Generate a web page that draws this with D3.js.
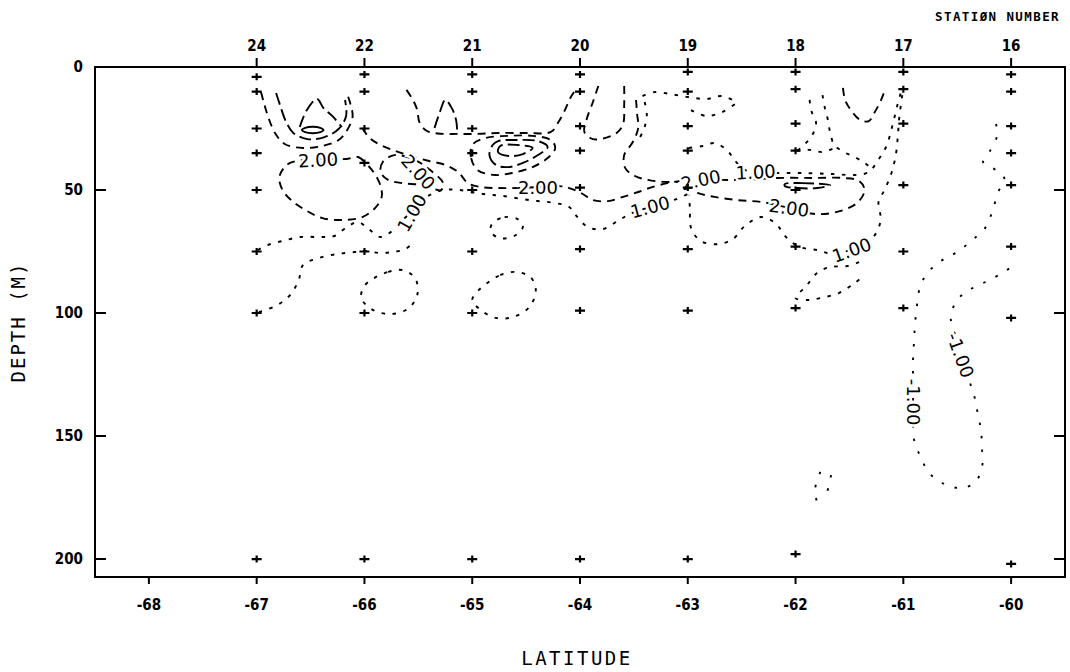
<!DOCTYPE html>
<html><head><meta charset="utf-8">
<script src="https://cdn.jsdelivr.net/npm/d3@7"></script>
<style>body{margin:0;background:#fff}svg{display:block}</style>
</head><body>
<svg id="c" width="1070" height="672"></svg>
<script>
// ---------- data ----------
const stationNumbers = ["24","22","21","20","19","18","17","16"];
const stationLats = [-67,-66,-65,-64,-63,-62,-61,-60];
const sampleDepths = [
  [4,10,25,35,50,75,100,200],
  [3,10,25,39,75,100,200],
  [3,10,25,35,50,75,100,200],
  [3,10,24,34,49,74,99,200],
  [2,10,24,34,49,74,99,200],
  [2,9,23,34,50,73,98,198],
  [2,9,23,48,75,98],
  [3,10,24,35,48,73,102,202]
];
const latTicks = [-68,-67,-66,-65,-64,-63,-62,-61,-60];
const depthTicks = [0,50,100,150,200];

// contour lines, [latitude, depth]
const a1 = [[-66.96,10.2],[-66.93,15.0],[-66.89,20.7],[-66.83,26.8],[-66.74,31.3],[-66.57,32.9],[-66.39,32.1],[-66.24,29.7],[-66.16,25.6],[-66.11,20.3],[-66.13,15.0],[-66.16,11.0]];
const a2 = [[-66.82,10.6],[-66.78,15.9],[-66.73,22.0],[-66.66,26.8],[-66.53,29.3],[-66.37,28.5],[-66.24,25.2],[-66.17,19.9],[-66.18,13.4]];
const a3 = [[-66.60,24.4],[-66.54,17.9],[-66.44,13.0],[-66.38,16.7],[-66.29,20.3],[-66.21,24.4]];
const a4 = [[-66.58,25.6],[-66.55,24.7],[-66.48,24.3],[-66.41,24.7],[-66.38,25.6],[-66.41,26.5],[-66.48,26.9],[-66.55,26.5]];
const b1 = [[-66.17,37.4],[-66.06,36.6],[-65.99,39.0],[-65.91,43.1],[-65.85,48.4],[-65.84,52.8],[-65.90,57.3],[-66.02,61.0],[-66.20,62.2],[-66.39,61.4],[-66.55,58.1],[-66.68,54.1],[-66.76,50.0],[-66.79,45.1],[-66.75,41.1],[-66.69,39.0],[-66.57,37.8],[-66.43,37.4],[-66.29,37.4]];
const c1 = [[-65.72,35.8],[-65.83,38.6],[-65.85,42.7],[-65.78,45.9],[-65.65,47.2],[-65.46,48.0],[-65.29,50.0],[-65.27,47.2],[-65.39,41.9],[-65.53,37.8]];
const d1 = [[-66.02,24.8],[-65.96,28.5],[-65.87,31.3],[-65.74,33.7],[-65.57,36.2],[-65.40,38.2],[-65.25,39.8],[-65.13,42.7],[-65.04,47.2],[-64.92,48.8],[-64.76,49.2],[-64.60,49.2],[-64.39,48.8],[-64.19,48.4],[-64.10,49.2],[-63.99,51.2],[-63.88,54.1],[-63.74,54.5],[-63.60,52.8],[-63.46,50.8],[-63.33,48.8],[-63.19,47.2],[-63.07,46.3]];
const e1 = [[-66.99,74.4],[-66.90,72.4],[-66.76,70.7],[-66.59,69.1],[-66.41,69.1],[-66.28,68.7],[-66.16,65.0],[-66.06,63.0],[-65.96,65.9],[-65.85,69.1],[-65.71,65.4],[-65.65,62.2],[-65.57,59.3],[-65.50,55.3],[-65.41,52.4],[-65.27,50.0],[-65.12,50.0],[-64.90,51.6],[-64.72,52.4],[-64.47,54.1],[-64.23,55.3],[-64.10,56.9],[-64.04,60.2],[-63.93,65.0],[-63.79,65.9],[-63.65,62.6],[-63.54,59.8],[-63.35,56.9],[-63.17,54.5],[-63.08,53.3],[-62.97,50.8]];
const f1 = [[-66.98,99.6],[-66.81,96.8],[-66.69,92.7],[-66.61,86.6],[-66.57,80.5],[-66.42,77.6],[-66.25,76.0],[-66.09,75.2],[-65.99,74.8],[-65.86,75.6],[-65.74,75.2],[-65.62,74.0],[-65.53,70.7]];
const g1 = [[-65.91,85.8],[-65.78,83.3],[-65.65,82.5],[-65.53,85.8],[-65.51,92.7],[-65.60,98.4],[-65.76,100.4],[-65.92,98.8],[-66.03,93.9],[-66.00,89.0]];
const h1 = [[-64.86,87.8],[-64.74,84.6],[-64.60,83.3],[-64.46,85.4],[-64.41,90.7],[-64.47,97.6],[-64.62,101.6],[-64.78,102.0],[-64.92,98.8],[-65.00,94.7],[-64.94,90.7]];
const i1 = [[-64.81,63.4],[-64.70,61.0],[-64.58,61.8],[-64.53,65.0],[-64.61,68.7],[-64.75,69.5],[-64.83,66.7]];
const j1 = [[-65.61,9.3],[-65.55,13.4],[-65.51,17.5],[-65.49,22.4],[-65.42,26.0],[-65.27,27.2],[-65.14,27.2],[-64.95,27.2],[-64.76,26.8],[-64.49,26.8],[-64.27,26.4],[-64.20,22.4],[-64.14,17.5],[-64.09,12.6],[-64.03,8.5]];
const j2 = [[-65.35,24.8],[-65.30,18.3],[-65.25,13.4],[-65.19,16.7],[-65.15,21.5],[-65.14,25.6]];
const k1 = [[-65.00,31.7],[-65.01,37.0],[-64.95,41.9],[-64.79,43.9],[-64.63,43.1],[-64.44,40.7],[-64.30,37.0],[-64.23,32.9],[-64.27,29.7],[-64.44,28.0],[-64.67,28.0],[-64.88,28.9]];
const k2 = [[-64.81,31.7],[-64.84,35.8],[-64.78,39.8],[-64.67,40.7],[-64.53,39.0],[-64.39,35.8],[-64.30,32.5],[-64.39,30.1],[-64.61,29.7],[-64.76,30.1]];
const k3 = [[-64.74,32.1],[-64.76,34.6],[-64.66,36.2],[-64.53,35.4],[-64.44,32.9],[-64.58,31.7]];
const m1 = [[-63.83,7.7],[-63.88,14.2],[-63.94,21.5],[-63.96,26.4],[-63.88,29.3],[-63.77,28.9],[-63.66,26.8],[-63.60,23.2],[-63.59,15.4],[-63.59,7.7]];
const n1 = [[-63.48,13.4],[-63.47,19.1],[-63.46,24.8],[-63.51,30.5],[-63.59,35.8],[-63.58,41.1],[-63.49,44.3],[-63.37,45.9],[-63.23,46.7],[-63.09,46.7]];
const n2 = [[-63.40,14.2],[-63.38,19.5],[-63.41,25.6],[-63.47,30.5]];
const o1 = [[-63.42,11.8],[-63.31,10.2],[-63.16,11.0],[-63.00,12.2],[-62.83,13.0],[-62.68,11.8],[-62.55,14.2]];
const o2 = [[-62.97,17.5],[-62.83,19.9],[-62.68,18.3],[-62.56,15.0]];
const p1 = [[-62.99,32.9],[-62.86,32.1],[-62.75,30.9],[-62.63,34.1],[-62.56,38.2],[-62.45,42.3],[-62.31,43.1],[-62.17,43.1],[-61.94,43.1],[-61.66,43.5],[-61.45,43.9],[-61.32,42.7],[-61.24,38.2],[-61.16,32.5],[-61.10,23.6],[-61.05,14.6],[-61.01,8.5]];
const q2 = [[-62.70,45.9],[-62.49,45.9],[-62.17,45.1],[-61.84,45.1],[-61.56,45.1],[-61.41,46.3],[-61.36,50.0],[-61.42,54.9],[-61.58,58.5],[-61.81,59.8],[-62.06,57.3],[-62.31,54.9],[-62.54,54.1],[-62.75,52.8],[-62.91,51.2],[-62.97,49.6]];
const q3 = [[-62.10,47.6],[-61.94,47.2],[-61.68,48.0],[-61.80,49.2],[-61.98,49.2],[-62.10,48.4]];
const r2 = [[-61.01,11.4],[-61.04,21.5],[-61.05,27.6],[-61.07,35.8],[-61.11,43.1],[-61.17,49.6],[-61.23,54.9],[-61.21,62.2],[-61.27,68.7],[-61.38,72.8],[-61.49,74.4],[-61.66,76.0],[-61.80,74.4],[-61.96,73.2],[-62.08,69.5],[-62.19,63.4],[-62.32,61.0],[-62.47,64.6],[-62.58,69.9],[-62.72,72.0],[-62.88,70.7],[-62.97,65.4],[-62.98,57.3],[-62.99,52.0]];
const s1 = [[-61.87,13.4],[-61.85,18.3],[-61.81,22.4],[-61.83,26.4],[-61.88,29.7],[-61.94,32.5],[-61.99,34.1]];
const s2 = [[-61.75,11.4],[-61.73,16.3],[-61.70,21.5],[-61.68,26.4],[-61.64,31.7],[-61.55,34.6],[-61.45,36.6],[-61.36,39.0],[-61.30,41.1]];
const s3 = [[-61.99,34.1],[-61.86,33.7],[-61.75,34.6],[-61.64,32.9]];
const m2 = [[-61.56,8.5],[-61.54,13.4],[-61.48,17.9],[-61.40,21.5],[-61.32,22.0],[-61.27,18.7],[-61.21,13.8],[-61.17,9.3]];
const u1 = [[-61.41,79.3],[-61.52,80.9],[-61.68,81.3],[-61.80,83.7],[-61.90,89.0],[-62.00,93.9],[-61.89,94.7],[-61.77,93.9],[-61.60,91.9],[-61.45,87.8],[-61.36,84.6]];
const v1 = [[-60.14,23.2],[-60.13,28.0],[-60.19,33.7],[-60.26,38.6],[-60.17,41.1],[-60.09,43.5],[-60.06,45.9],[-60.12,50.8],[-60.17,58.1],[-60.24,65.4],[-60.36,70.3],[-60.50,75.2],[-60.64,78.5],[-60.76,82.9],[-60.84,88.6],[-60.87,95.9],[-60.89,103.7],[-60.90,111.0],[-60.91,119.1],[-60.91,127.2],[-60.91,135.4],[-60.91,143.5],[-60.90,151.6],[-60.84,158.5],[-60.76,165.0],[-60.64,169.1],[-60.48,171.1],[-60.34,169.1],[-60.27,162.6],[-60.27,154.9],[-60.28,147.6],[-60.31,140.7],[-60.34,134.1],[-60.40,126.0],[-60.47,117.1],[-60.52,109.0],[-60.56,101.6],[-60.50,94.7],[-60.39,90.7],[-60.24,87.4],[-60.08,83.7],[-60.01,81.7]];
const x1 = [[-61.77,164.6],[-61.82,171.9],[-61.79,178.5]];
const x2 = [[-61.67,165.9],[-61.71,173.6]];

const contourLines = [
  {pts:a1, level:2}, {pts:a2, level:3}, {pts:a3, level:3}, {pts:a4, level:4, closed:true},
  {pts:b1, level:2, closed:true}, {pts:c1, level:2, closed:true}, {pts:d1, level:2},
  {pts:e1, level:1}, {pts:f1, level:1}, {pts:g1, level:1, closed:true}, {pts:h1, level:1, closed:true},
  {pts:i1, level:1, closed:true}, {pts:j1, level:2}, {pts:j2, level:3},
  {pts:k1, level:2, closed:true}, {pts:k2, level:3, closed:true}, {pts:k3, level:3, closed:true},
  {pts:m1, level:2}, {pts:n1, level:2}, {pts:n2, level:1}, {pts:o1, level:1}, {pts:o2, level:1},
  {pts:p1, level:1}, {pts:q2, level:2}, {pts:q3, level:3, closed:true}, {pts:r2, level:1},
  {pts:s1, level:1}, {pts:s2, level:1}, {pts:s3, level:1}, {pts:m2, level:2}, {pts:u1, level:1},
  {pts:v1, level:-1}, {pts:x1, level:-1}, {pts:x2, level:-1}
];

const labelTexts = ["2.00","2.00","2.00","2.00","1.00","1.00","1.00","2.00","1.00","-1.00","-1.00"];
const labelLats =  [-66.43,-65.50,-64.39,-62.88,-65.56,-63.35,-62.37,-62.06,-61.48,-60.91,-60.47];
const labelDepths = [37.8,42.7,48.8,45.9,59.3,56.9,42.7,57.3,74.4,136.2,117.1];
const labelAngles = [-3,48,0,-12,-60,-15,-3,8,-20,90,70];

// ---------- drawing ----------
const svg = d3.select("#c");
svg.append("rect").attr("width",1070).attr("height",672).attr("fill","#fff");
const x = d3.scaleLinear().domain([-68.5,-59.5]).range([95,1065]);
const y = d3.scaleLinear().domain([0,207.3]).range([67,577]);
const tickFont = "'DejaVu Sans Condensed','DejaVu Sans',sans-serif";
const plotFont = "'DejaVu Sans Mono',monospace";

const dashFor = {"-1":"2.5,11", "1":"3.5,7.5", "2":"8,6", "3":"12,5", "4":null};

const lineGen = d3.line().x(d=>x(d[0])).y(d=>y(d[1])).curve(d3.curveCatmullRom.alpha(0.5));
const lineGenClosed = d3.line().x(d=>x(d[0])).y(d=>y(d[1])).curve(d3.curveCatmullRomClosed.alpha(0.5));

const cg = svg.append("g").attr("fill","none").attr("stroke","#000").attr("stroke-width",1.9).attr("stroke-linecap","butt");
cg.selectAll("path").data(contourLines).join("path")
  .attr("d", d => (d.closed ? lineGenClosed : lineGen)(d.pts))
  .attr("stroke-dasharray", d => dashFor[String(d.level)]);

// contour labels
svg.append("g").selectAll("text").data(labelTexts).join("text")
  .attr("transform",(t,i)=>`translate(${x(labelLats[i])},${y(labelDepths[i])}) rotate(${labelAngles[i]})`)
  .attr("text-anchor","middle").attr("dy","0.36em")
  .attr("font-family","'DejaVu Sans',sans-serif").attr("font-size",18)
  .attr("fill","#000").attr("stroke","#fff").attr("stroke-width",5).attr("paint-order","stroke")
  .text(t=>t);

// sample crosses
const crosses = [];
stationLats.forEach((lat,i)=>sampleDepths[i].forEach(dp=>crosses.push([lat,dp])));
const pg = svg.append("g").attr("stroke","#000").attr("stroke-width",2.2);
pg.selectAll("path").data(crosses).join("path")
  .attr("d", d => `M${x(d[0])-5},${y(d[1])}h10M${x(d[0])},${y(d[1])-3.5}v7`);

// frame
svg.append("rect").attr("x",95).attr("y",67).attr("width",970).attr("height",510)
  .attr("fill","none").attr("stroke","#000").attr("stroke-width",2);

// left / right depth ticks
const ag = svg.append("g").attr("stroke","#000").attr("stroke-width",2);
ag.selectAll("path.l").data(depthTicks).join("path").attr("class","l")
  .attr("d", d=>`M95,${y(d)}h11M1065,${y(d)}h-11`);
// bottom latitude ticks
ag.selectAll("path.b").data(latTicks).join("path").attr("class","b")
  .attr("d", d=>`M${x(d)},577v7`);
// top station ticks
ag.selectAll("path.t").data(stationLats).join("path").attr("class","t")
  .attr("d", d=>`M${x(d)},67v-9`);

svg.append("g").selectAll("text").data(depthTicks).join("text")
  .attr("x",83).attr("y",d=>y(d)+5).attr("text-anchor","end")
  .attr("font-family",tickFont).attr("font-weight","bold").attr("font-size",15)
  .text(d=>d);
svg.append("g").selectAll("text").data(latTicks).join("text")
  .attr("x",d=>x(d)).attr("y",610).attr("text-anchor","middle")
  .attr("font-family",tickFont).attr("font-weight","bold").attr("font-size",15)
  .text(d=>d);
svg.append("g").selectAll("text").data(stationNumbers).join("text")
  .attr("x",(d,i)=>x(stationLats[i])).attr("y",51).attr("text-anchor","middle")
  .attr("font-family",tickFont).attr("font-weight","bold").attr("font-size",15)
  .text(d=>d);

svg.append("text").attr("x",1060).attr("y",21).attr("text-anchor","end")
  .attr("font-family",plotFont).attr("font-weight","bold").attr("font-size",12.5).attr("letter-spacing",1.4)
  .text("STATIØN NUMBER");
svg.append("text").attr("x",577).attr("y",665).attr("text-anchor","middle")
  .attr("font-family",plotFont).attr("font-size",19).attr("letter-spacing",2.5)
  .text("LATITUDE");
svg.append("text").attr("transform","translate(25,322) rotate(-90)").attr("text-anchor","middle")
  .attr("font-family",plotFont).attr("font-size",19).attr("letter-spacing",2)
  .text("DEPTH (M)");
</script>
</body></html>
